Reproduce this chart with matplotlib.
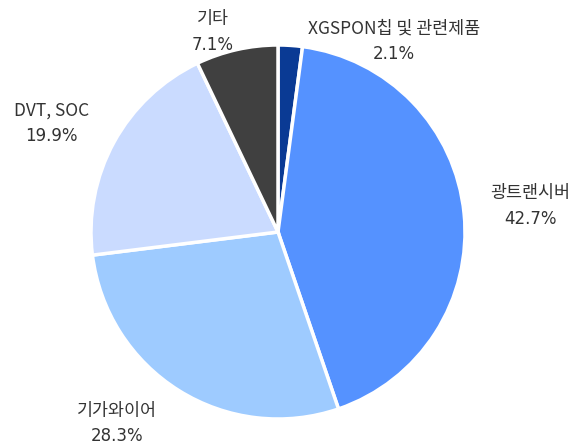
import matplotlib
matplotlib.use('Agg')
import matplotlib.pyplot as plt

labels = ['XGSPON칩 및 관련제품', '광트랜시버', '기가와이어', 'DVT, SOC', '기타']
values = [2.1, 42.7, 28.3, 19.9, 7.1]
colors = ['#0a3a94', '#5592ff', '#9ecbff', '#cadbff', '#404040']

# label centres (name line), in pie-radius units; percent line sits below
label_pos = [(0.62, 1.09), (1.35, 0.21), (-0.86, -0.955), (-1.21, 0.65), (-0.35, 1.14)]
line_gap = 0.138

fig = plt.figure(figsize=(5.76, 4.47), dpi=100)
ax = fig.add_axes([0, 0, 1, 1])
ax.pie(values, colors=colors, startangle=90, counterclock=False,
       wedgeprops=dict(edgecolor='white', linewidth=2.5))
ax.set_xlim(-278 / 187, (576 - 278) / 187)
ax.set_ylim((232 - 447) / 187, 232 / 187)
ax.set_aspect('equal')
ax.axis('off')

for lab, v, (x, y) in zip(labels, values, label_pos):
    ax.text(x, y, lab, ha='center', va='center', fontsize=12.5,
            color='#333333', family=['Noto Sans CJK KR', 'DejaVu Sans'])
    ax.text(x, y - line_gap, f'{v:.1f}%', ha='center', va='center',
            fontsize=12, color='#333333', family=['DejaVu Sans'])

fig.savefig('out.png', dpi=100)
